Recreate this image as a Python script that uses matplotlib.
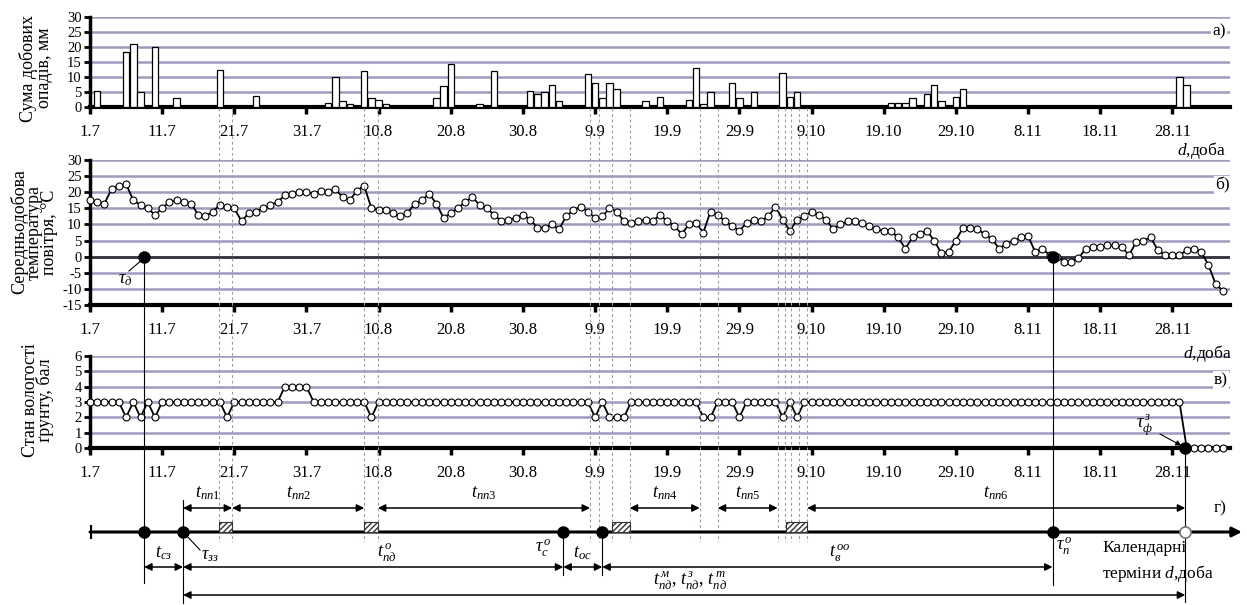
#!/usr/bin/env python
import numpy as np
import matplotlib
matplotlib.use('Agg')
import matplotlib.pyplot as plt
from matplotlib.patches import Rectangle

###   Data  (x = day counted from 1.7)

tick_days = [0, 10, 20, 30, 40, 50, 60, 70, 80, 90, 100, 110, 120, 130, 140, 150]
tick_labels = ['1.7', '11.7', '21.7', '31.7', '10.8', '20.8', '30.8', '9.9', '19.9',
               '29.9', '9.10', '19.10', '29.10', '8.11', '18.11', '28.11']

# a) daily precipitation, mm (only days with rain)
precip_day = [1, 5, 6, 7, 9, 12, 14, 18, 20, 21, 23, 33, 34, 35, 36, 37, 38, 39, 40, 41,
              43, 48, 49, 50, 54, 56, 58, 61, 62, 63, 64, 65, 69, 70, 71, 72, 73, 77, 79,
              83, 84, 85, 86, 88, 89, 90, 92, 96, 97, 98, 111, 112, 113, 114, 116, 117,
              118, 119, 120, 121, 122, 131, 150, 151, 152]
precip_mm = [5.5, 18.5, 21, 5, 20, 3, 0.5, 12.5, 0.5, 0.5, 3.8, 1.5, 10, 2, 1, 0.5, 12, 3, 2.5, 1,
             0.5, 3, 7, 14.5, 1, 12, 0.5, 5.5, 4.5, 5, 7.5, 2, 11, 8, 3, 8, 6, 2, 3.5,
             2.5, 13, 1, 5, 0.5, 8, 3, 5, 11.5, 3.5, 5, 1.5, 1.5, 1.5, 3, 4.5, 7.5,
             2, 0.5, 3.5, 6, 0.5, 0.3, 0.5, 10, 7.5]

# b) mean daily air temperature, C (days 0..157)
temp_c = [17.5, 17, 16.5, 21, 22, 22.5, 17.5, 16, 15, 13,
          15, 17, 17.5, 17, 16.5, 13, 12.5, 14, 16, 15.5,
          15, 11, 13.5, 14, 15, 16, 17, 19, 19.5, 20,
          20, 19.5, 20.5, 20, 21, 18.5, 17.5, 20.5, 22, 15,
          14.5, 14.5, 13.5, 12.5, 13.5, 16.5, 17.5, 19.5, 16.5, 12,
          13.5, 15, 17, 18.5, 16, 15, 13, 11, 11.5, 12,
          13, 11.5, 9, 9, 10, 8.5, 12.5, 14.5, 15.5, 14,
          12, 12.5, 15, 14, 11, 10.5, 11, 11.5, 11, 13,
          11, 9.5, 7, 10, 10.5, 7.5, 14, 13, 11, 9.5,
          8, 10.5, 11.5, 11, 12.5, 15.5, 11.5, 8, 11.5, 12.5,
          14, 13, 11.5, 8.5, 10, 11, 11, 10.5, 9.5, 8.5,
          8, 8, 6, 2.5, 6, 7, 8, 5, 1, 1.5,
          5, 9, 9, 8.5, 7, 5.5, 2.5, 4, 5, 6,
          6.5, 1.5, 2.5, 0.5, 0, -1.5, -1.5, -0.5, 2.5, 3,
          3, 3.5, 3.5, 3, 0.5, 4.5, 5, 6, 2, 0.5,
          0.5, 0.5, 2, 2.5, 1.5, -2.5, -8.5, -10.5]

# c) soil moisture state, points (days 0..157)
soil_ball = [3, 3, 3, 3, 3, 2, 3, 2, 3, 2,
             3, 3, 3, 3, 3, 3, 3, 3, 3, 2,
             3, 3, 3, 3, 3, 3, 3, 4, 4, 4,
             4, 3, 3, 3, 3, 3, 3, 3, 3, 2,
             3, 3, 3, 3, 3, 3, 3, 3, 3, 3,
             3, 3, 3, 3, 3, 3, 3, 3, 3, 3,
             3, 3, 3, 3, 3, 3, 3, 3, 3, 3,
             2, 3, 2, 2, 2, 3, 3, 3, 3, 3,
             3, 3, 3, 3, 3, 2, 2, 3, 3, 3,
             2, 3, 3, 3, 3, 3, 2, 3, 2, 3,
             3, 3, 3, 3, 3, 3, 3, 3, 3, 3,
             3, 3, 3, 3, 3, 3, 3, 3, 3, 3,
             3, 3, 3, 3, 3, 3, 3, 3, 3, 3,
             3, 3, 3, 3, 3, 3, 3, 3, 3, 3,
             3, 3, 3, 3, 3, 3, 3, 3, 3, 3,
             3, 3, 0, 0, 0, 0, 0, 0]

# d) events on the calendar line (days)
tau_d = 7.5
tau_zz = 12.9
tau_c = 65.6
tau_oc_end = 71.0
tau_p = 133.4
tau_f = 151.8
dashed_days = [17.9, 19.7, 38.0, 39.9, 69.3, 70.5, 72.3, 74.8, 84.5, 87.0,
               95.3, 96.3, 97.2, 98.3, 99.4]
box_days = [(17.9, 19.7), (38.0, 39.9), (72.3, 74.8), (96.5, 99.4)]
upper_spans = [(tau_zz, 19.7), (19.7, 38.0), (39.9, 69.3), (74.8, 84.5), (87.0, 95.3), (99.4, tau_f)]
upper_names = [r'$t_{пп1}$', r'$t_{пп2}$', r'$t_{пп3}$', r'$t_{пп4}$', r'$t_{пп5}$', r'$t_{пп6}$']

###   Style / layout

plt.rcParams['font.family'] = ['Liberation Serif', 'DejaVu Serif']
plt.rcParams['mathtext.fontset'] = 'custom'
plt.rcParams['mathtext.rm'] = 'Liberation Serif'
plt.rcParams['mathtext.it'] = 'Liberation Serif:italic'
plt.rcParams['axes.unicode_minus'] = False

W, H = 1247, 605
LEFT, RIGHT = 90, 1230
XMIN, XMAX = 0, 158
GRID = '#9c9cc0'

fig = plt.figure(figsize=(W / 100, H / 100), dpi=100)


def fx(px):
    return px / W


def fy(py):
    return 1 - py / H


def px2d(px):
    return XMIN + (px - LEFT) / (RIGHT - LEFT) * (XMAX - XMIN)


def panel(top, bottom):
    return fig.add_axes([fx(LEFT), fy(bottom), (RIGHT - LEFT) / W, (bottom - top) / H])


def style(ax, ylo, yhi, step):
    ax.set_xlim(XMIN, XMAX)
    ax.set_ylim(ylo, yhi)
    ax.set_yticks(np.arange(ylo, yhi + step / 2, step))
    ax.set_xticks(tick_days)
    ax.set_xticklabels(tick_labels)
    for s in ['top', 'right']:
        ax.spines[s].set_visible(False)
    ax.spines['left'].set_linewidth(2.5)
    ax.spines['bottom'].set_linewidth(3)
    ax.tick_params(axis='x', length=5, width=2.5, pad=7, labelsize=12)
    ax.tick_params(axis='y', length=4, width=2, pad=2, labelsize=10.5)
    ax.yaxis.grid(True, color=GRID, lw=1.8)
    ax.set_axisbelow(True)
    ax.patch.set_alpha(0)


# a) precipitation
axA = panel(17, 107)
style(axA, 0, 30, 5)
axA.bar(precip_day, precip_mm, width=0.9, color='white', edgecolor='black', lw=0.9, zorder=3)

# b) temperature
axB = panel(160, 305)
style(axB, -15, 30, 5)
axB.axhline(0, color='#333340', lw=2, zorder=2)
axB.plot(range(len(temp_c)), temp_c, color='black', lw=1.3, marker='o', ms=5,
         mfc='white', mec='black', mew=0.8, zorder=4, clip_on=False)
axB.plot([tau_d, tau_p], [0, 0], 'o', color='black', ms=8, zorder=5)

# c) soil moisture
axC = panel(356, 448)
style(axC, 0, 6, 1)
axC.plot(range(len(soil_ball)), soil_ball, color='black', lw=1.3, marker='o', ms=5,
         mfc='white', mec='black', mew=0.8, zorder=4, clip_on=False)
axC.plot([tau_f], [0], 'o', color='black', ms=8, zorder=5, clip_on=False)

# overlay for calendar lines (x in days, y in pixels)
ov = fig.add_axes([fx(LEFT), 0, (RIGHT - LEFT) / W, 1])
ov.set_xlim(XMIN, XMAX)
ov.set_ylim(H, 0)
ov.axis('off')
ov.patch.set_alpha(0)

for d in dashed_days:
    ov.plot([d, d], [108, 542], color='#9a9ab0', lw=0.8, ls=(0, (2.5, 2.5)), zorder=1)

# solid verticals
ov.plot([tau_d, tau_d], [257, 583], color='black', lw=0.8)
ov.plot([tau_zz, tau_zz], [500, 603], color='black', lw=0.8)
ov.plot([tau_c, tau_c], [532, 575], color='black', lw=0.8)
ov.plot([tau_oc_end, tau_oc_end], [532, 575], color='black', lw=0.8)
ov.plot([tau_p, tau_p], [257, 585], color='black', lw=0.8)
ov.plot([tau_f, tau_f], [448, 602], color='black', lw=0.8)

# main calendar line
ov.annotate('', xy=(px2d(1242), 532), xytext=(0, 532), annotation_clip=False,
            arrowprops=dict(arrowstyle='-|>', color='black', lw=2.2, mutation_scale=14,
                            shrinkA=0, shrinkB=0))
ov.plot([0, 0], [525, 539], color='black', lw=3, solid_capstyle='butt')
for d0, d1 in box_days:
    ov.add_patch(Rectangle((d0, 522), d1 - d0, 10, facecolor='white', edgecolor='#333333',
                           lw=0.8, hatch='//////', zorder=3))
ov.plot([tau_d, tau_zz, tau_c, tau_oc_end, tau_p], [532] * 5, 'o', color='black', ms=8, zorder=4)
ov.plot([tau_f], [532], 'o', mfc='white', mec='#777777', mew=1.2, ms=8, zorder=4)


def span(d0, d1, y):
    ov.annotate('', xy=(d1, y), xytext=(d0, y), annotation_clip=False,
                arrowprops=dict(arrowstyle='<|-|>', color='black', lw=1.1,
                                mutation_scale=11, shrinkA=0, shrinkB=0))


for (d0, d1), name in zip(upper_spans, upper_names):
    span(d0, d1, 508)
    ov.text((d0 + d1) / 2, 493, name, ha='center', va='center', fontsize=13)

lower_spans = [(tau_d, tau_zz), (tau_zz, tau_c), (tau_c, tau_oc_end), (tau_oc_end, tau_p)]
lower_names = [r'$t_{сз}$', r'$t_{пд}^{\,o}$', r'$t_{ос}$', r'$t_{в}^{\,oo}$']
lower_shift = [0, 13, 0, 12]
for (d0, d1), name, sh in zip(lower_spans, lower_names, lower_shift):
    span(d0, d1, 567)
    ov.text((d0 + d1) / 2 + px2d(LEFT + sh), 553, name, ha='center', va='center', fontsize=13)

span(tau_zz, tau_f, 595)
ov.text(px2d(690), 581, r'$t_{пд}^{\,м},\, t_{пд}^{\,з},\, t_{пд}^{\,т}$',
        ha='center', va='center', fontsize=13)

# event labels
ov.plot([tau_zz, px2d(200)], [532, 550], color='black', lw=0.8)
ov.text(px2d(201), 556, r'$\tau_{зз}$', ha='left', va='center', fontsize=13)
ov.text(px2d(552), 548, r'$\tau_c^{\,o}$', ha='right', va='center', fontsize=13)
ov.text(px2d(1056), 546, r'$\tau_п^{\,o}$', ha='left', va='center', fontsize=13)
ov.plot([px2d(129), tau_d], [271, 258], color='black', lw=0.8)
ov.text(px2d(118), 280, r'$\tau_д$', ha='left', va='center', fontsize=13)
ov.annotate('', xy=(tau_f - 0.2, 447), xytext=(px2d(1160), 434),
            arrowprops=dict(arrowstyle='-|>', color='black', lw=0.8, mutation_scale=8,
                            shrinkA=0, shrinkB=2))
ov.text(px2d(1136), 425, r'$\tau_ф^{\,з}$', ha='left', va='center', fontsize=13)

# panel captions
for xp, yp, s in [(1212, 31, 'а)'), (1215, 185, 'б)'), (1214, 380, 'в)'), (1214, 508, 'г)')]:
    fig.text(fx(xp), fy(yp), s, fontsize=12.5, ha='left', va='center',
             bbox=dict(fc='white', ec='none', pad=1))
fig.text(fx(1226), fy(150), r'$d$,доба', fontsize=12.5, ha='right', va='center')
fig.text(fx(1232), fy(353), r'$d$,доба', fontsize=12.5, ha='right', va='center')
fig.text(fx(1102), fy(548), 'Календарні', fontsize=12.5, ha='left', va='center')
fig.text(fx(1102), fy(574), r'терміни $d$,доба', fontsize=12.5, ha='left', va='center')

# y labels
fig.text(fx(36), fy(68), 'Сума добових\nопадів, мм', rotation=90, fontsize=13,
         ha='center', va='center', linespacing=0.85)
fig.text(fx(34), fy(232), 'Середньодобова\nтемпература\nповітря, °С', rotation=90,
         fontsize=13, ha='center', va='center', linespacing=0.85)
fig.text(fx(38), fy(400), 'Стан вологості\nґрунту, бал', rotation=90, fontsize=13,
         ha='center', va='center', linespacing=0.85)

fig.savefig('out.png', dpi=100)
